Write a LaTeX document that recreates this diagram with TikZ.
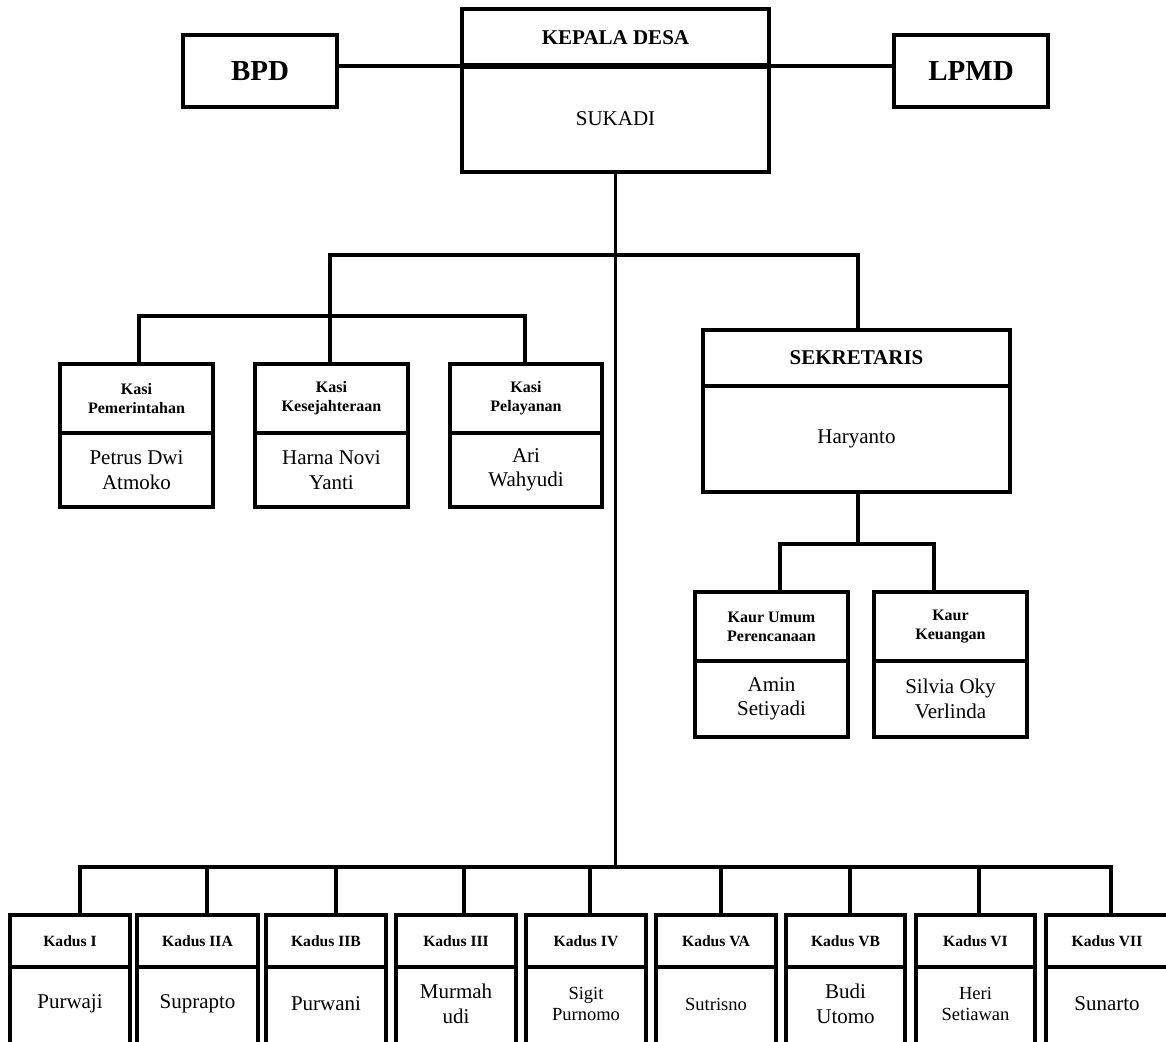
\documentclass[tikz,border=0pt]{standalone}
\usepackage{fontspec}
\setmainfont{Liberation Serif}
\newcommand\orgHdr{\bfseries\fontsize{16}{19}\selectfont}
\newcommand\orgKd{\bfseries\fontsize{15.6}{18}\selectfont}
\newcommand\orgName{\fontsize{21}{24.5}\selectfont}
\newcommand\orgSmall{\fontsize{18.5}{21}\selectfont}
\newcommand\orgBig{\bfseries\fontsize{21}{24}\selectfont}
\newcommand\orgHuge{\bfseries\fontsize{29}{33}\selectfont}
\tikzset{
  box/.style={draw, line width=3.2pt, inner sep=0pt, outer sep=0pt, align=center, anchor=north west},
  boxline/.style={line width=3.2pt},
  divider/.style={line width=4.2pt},
  conn/.style={line width=3.4pt, line cap=rect},
}
% #1 name, #2 x, #3 y, #4 width, #5 header height, #6 body height, #7 header font, #8 header text, #9 body text
\newcommand\orgbox[9]{%
  \node[box, font=#7, minimum width=#4pt, minimum height=#5pt] (#1-h) at (#2,#3) {#8};
  \node[box, font=\orgName, minimum width=#4pt, minimum height=#6pt, anchor=north] (#1-b) at (#1-h.south) {#9};
  \draw[divider] (#1-h.south west) -- (#1-h.south east);}
% #1 name, #2 x, #3 width, #4 header text, #5 body font, #6 body text
\newcommand\kadus[6]{%
  \node[box, font=\orgKd, minimum width=#3pt, minimum height=52pt] (#1-h) at (#2,915) {#4};
  \node[inner sep=0pt, outer sep=0pt, align=center, font=#5, minimum width=#3pt, minimum height=74pt, anchor=north] (#1-b) at (#1-h.south) {#6};
  \draw[boxline] (#1-h.south west) -- ++(0,90) (#1-h.south east) -- ++(0,90);
  \draw[divider] (#1-h.south west) -- (#1-h.south east);}
\begin{document}
\begin{tikzpicture}[x=1pt,y=-1pt]
\useasboundingbox (0,0) rectangle (1166,1041);
\clip (0,0) rectangle (1166,1041);
\fill[white] (0,0) rectangle (1166,1041);

% top row
\node[box, font=\orgHuge, minimum width=154pt, minimum height=72pt] (bpd) at (183,35) {BPD};
\node[box, font=\orgHuge, minimum width=154pt, minimum height=72pt] (lpmd) at (894,35) {LPMD};
\orgbox{kep}{462}{9}{307}{57}{106}{\orgBig}{KEPALA DESA}{SUKADI}
\draw[boxline] (bpd.east |- kep-h.south) -- (lpmd.west |- kep-h.south);
\draw[line width=5.5pt] (kep-h.south west) -- (kep-h.south east);

% kasi
\orgbox{pem}{60}{364}{153}{69}{74}{\orgHdr}{Kasi\\Pemerintahan}{Petrus Dwi\\Atmoko}
\orgbox{kes}{255}{364}{153}{69}{74}{\orgHdr}{Kasi\\Kesejahteraan}{Harna Novi\\Yanti}
\orgbox{pel}{450}{364}{152}{69}{74}{\orgHdr}{Kasi\\Pelayanan}{Ari\\Wahyudi}

% sekretaris
\orgbox{sek}{703}{330}{307}{56}{106}{\orgBig}{SEKRETARIS}{Haryanto}
\orgbox{kum}{695}{592}{153}{69}{76}{\orgHdr}{Kaur Umum\\Perencanaan}{Amin\\Setiyadi}
\orgbox{kku}{874}{592}{153}{69}{76}{\orgHdr}{Kaur\\Keuangan}{Silvia Oky\\Verlinda}

% kadus
\kadus{k1}{10}{120}{Kadus I}{\orgName}{Purwaji}
\kadus{k2}{137}{121}{Kadus IIA}{\orgName}{Suprapto}
\kadus{k3}{266}{120}{Kadus IIB}{\orgName}{Purwani}
\kadus{k4}{396}{120}{Kadus III}{\orgName}{Murmah\\udi}
\kadus{k5}{526}{120}{Kadus IV}{\orgSmall}{Sigit\\Purnomo}
\kadus{k6}{656}{120}{Kadus VA}{\orgSmall}{Sutrisno}
\kadus{k7}{786}{119}{Kadus VB}{\orgName}{Budi\\Utomo}
\kadus{k8}{916}{119}{Kadus VI}{\orgSmall}{Heri\\Setiawan}
\kadus{k9}{1046}{122}{Kadus VII}{\orgName}{Sunarto}

% connectors
\coordinate (hubBot) at (615,867);
\coordinate (kasiTop) at (330,255);
\coordinate (kasiL) at (139,316);
\coordinate (kasiR) at (525,316);
\coordinate (sekTop) at (858,255);
\coordinate (kaurL) at (780,544);
\coordinate (kaurR) at (934,544);

\draw[conn] (kep-b.south) -- (kep-b.south |- hubBot);
\draw[conn] (kasiTop) -- (sekTop) -- (sekTop |- sek-h.north);
\draw[conn] (kasiTop) -- (kasiTop |- kes-h.north);
\draw[conn] (kasiL) -- (kasiR);
\draw[conn] (kasiL) -- (kasiL |- pem-h.north);
\draw[conn] (kasiR) -- (kasiR |- pel-h.north);

\draw[conn] (sekTop |- sek-b.south) -- (sekTop |- kaurL);
\draw[conn] (kaurL) -- (kaurR);
\draw[conn] (kaurL) -- (kaurL |- kum-h.north);
\draw[conn] (kaurR) -- (kaurR |- kku-h.north);

\foreach \n/\x in {1/80,2/207,3/336,4/464,5/590,6/721,7/850,8/979,9/1111}{
  \coordinate (d\n) at (\x,867);
}
\draw[conn] (d1) -- (d9);
\foreach \n in {1,...,9}{
  \draw[conn] (d\n) -- (d\n |- k\n-h.north);
}
\end{tikzpicture}
\end{document}
